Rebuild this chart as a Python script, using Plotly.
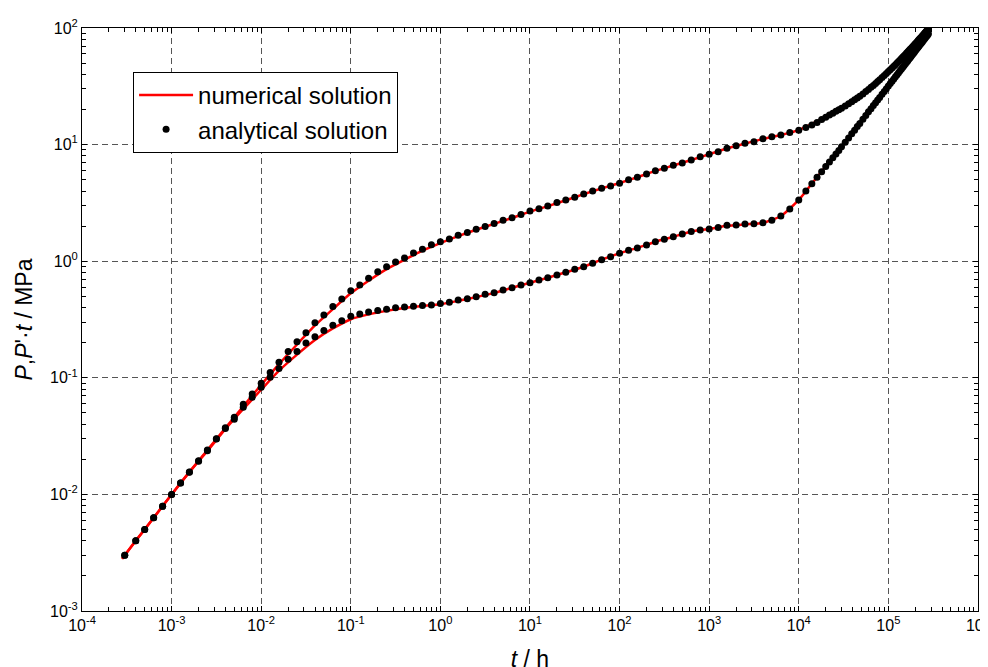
import plotly.graph_objects as go

# ---------------- data ----------------
# analytical solution (dots)
t_dots = [3.0e-4, 3.98e-4, 5.01e-4, 6.31e-4, 7.94e-4, 1.0e-3, 1.26e-3, 1.58e-3, 2.0e-3, 2.51e-3,
          3.16e-3, 3.98e-3, 5.01e-3, 6.31e-3, 7.94e-3, 1.0e-2, 1.26e-2, 1.58e-2, 2.0e-2, 2.51e-2,
          3.16e-2, 3.98e-2, 5.01e-2, 6.31e-2, 7.94e-2, 1.0e-1, 1.26e-1, 1.58e-1, 2.0e-1, 2.51e-1,
          3.16e-1, 3.98e-1, 5.01e-1, 6.31e-1, 7.94e-1, 1.0, 1.26, 1.58, 2.0, 2.51,
          3.16, 3.98, 5.01, 6.31, 7.94, 10.0, 12.6, 15.8, 20.0, 25.1,
          31.6, 39.8, 50.1, 63.1, 79.4, 100.0, 126.0, 158.0, 200.0, 251.0,
          316.0, 398.0, 501.0, 631.0, 794.0, 1000.0, 1260.0, 1580.0, 2000.0, 2510.0,
          3160.0, 3980.0, 5010.0, 6310.0, 7940.0, 10000.0,
          12000, 14000, 16000, 18000, 20000, 22000, 24000, 26000, 28000, 30000,
          33000, 36000, 39000, 42000, 45000, 48000, 52000, 56000, 60000, 64000,
          68000, 72000, 76000, 80000, 85000, 90000, 95000, 100000,
          105000, 110000, 115000, 120000, 125000, 130000, 135000, 140000, 145000, 150000,
          155000, 160000, 165000, 170000, 175000, 180000, 185000, 190000, 195000, 200000,
          205000, 210000, 215000, 220000, 225000, 230000, 235000, 240000, 245000, 250000,
          255000, 260000, 265000, 270000, 275000, 280000]

p_dots = [0.0030, 0.0040, 0.0050, 0.0063, 0.0079, 0.0100, 0.0125, 0.0156, 0.0194, 0.0240,
          0.0300, 0.0373, 0.0458, 0.0593, 0.0726, 0.090, 0.111, 0.136, 0.168, 0.204,
          0.244, 0.297, 0.346, 0.408, 0.474, 0.558, 0.625, 0.713, 0.81, 0.897,
          0.984, 1.065, 1.175, 1.264, 1.386, 1.47, 1.55, 1.67, 1.76, 1.88,
          1.98, 2.11, 2.24, 2.36, 2.52, 2.69, 2.82, 2.97, 3.19, 3.35,
          3.53, 3.77, 4.00, 4.22, 4.42, 4.66, 5.00, 5.25, 5.60, 5.98,
          6.27, 6.64, 6.95, 7.38, 7.88, 8.26, 8.69, 9.29, 9.79, 10.26,
          10.6, 11.2, 11.7, 12.1, 12.7, 13.3,
          14.0, 14.7, 15.5, 16.4, 17.2, 17.9, 18.6, 19.3, 19.9, 20.5,
          21.4, 22.4, 23.3, 24.2, 25.1, 26.0, 27.2, 28.5, 29.7, 31.0,
          32.2, 33.5, 34.7, 36.0, 37.6, 39.1, 40.7, 42.3,
          43.9, 45.4, 47.0, 48.5, 50.1, 51.6, 53.2, 54.7, 56.3, 57.8,
          59.4, 60.9, 62.5, 64.0, 65.6, 67.1, 68.7, 70.2, 71.8, 73.3,
          74.9, 76.4, 78.0, 79.5, 81.1, 82.6, 84.2, 85.7, 87.3, 88.8,
          90.4, 91.9, 93.5, 95.0, 96.6, 98.1]

dp_dots = [0.0030, 0.0040, 0.0050, 0.0063, 0.0079, 0.0100, 0.0125, 0.0155, 0.0192, 0.0237,
           0.0298, 0.0368, 0.0441, 0.0558, 0.068, 0.083, 0.101, 0.120, 0.144, 0.168,
           0.199, 0.225, 0.254, 0.282, 0.309, 0.337, 0.353, 0.367, 0.378, 0.388,
           0.398, 0.405, 0.411, 0.416, 0.422, 0.434, 0.444, 0.465, 0.477, 0.496,
           0.520, 0.537, 0.566, 0.593, 0.625, 0.654, 0.690, 0.722, 0.762, 0.803,
           0.853, 0.897, 0.959, 1.03, 1.09, 1.17, 1.24, 1.30, 1.38, 1.47,
           1.54, 1.62, 1.71, 1.80, 1.85, 1.89, 1.95, 2.03, 2.04, 2.08,
           2.09, 2.14, 2.24, 2.44, 2.80, 3.35,
           4.00, 4.62, 5.25, 5.85, 6.5, 7.1, 7.7, 8.3, 8.9, 9.6,
           10.5, 11.4, 12.4, 13.3, 14.3, 15.2, 16.5, 17.8, 19.1, 20.3,
           21.6, 22.9, 24.1, 25.4, 27.0, 28.6, 30.2, 31.8,
           33.4, 35.0, 36.6, 38.1, 39.7, 41.3, 42.9, 44.5, 46.1, 47.7,
           49.3, 50.9, 52.5, 54.1, 55.7, 57.3, 58.9, 60.5, 62.1, 63.7,
           65.3, 66.9, 68.5, 70.1, 71.7, 73.3, 74.9, 76.4, 78.0, 79.6,
           81.2, 82.8, 84.4, 86.0, 87.6, 89.2]

# numerical solution (red lines)
t_num = [2.8e-4, 3.98e-4, 6.31e-4, 1.0e-3, 1.58e-3, 2.51e-3, 3.98e-3, 6.31e-3, 1.0e-2, 1.58e-2,
         2.51e-2, 3.98e-2, 6.31e-2, 1.0e-1, 1.58e-1, 2.51e-1, 3.98e-1, 6.31e-1, 1.0, 1.58,
         2.51, 3.98, 6.31, 10.0, 15.8, 25.1, 39.8, 63.1, 100.0, 158.0,
         251.0, 398.0, 631.0, 1000.0, 1580.0, 2510.0, 3980.0, 6310.0, 10000.0,
         15000, 20000, 30000, 40000, 60000, 80000, 100000, 150000, 200000, 250000, 280000]

p_num = [0.0028, 0.0040, 0.0063, 0.0100, 0.0156, 0.0240, 0.0370, 0.057, 0.087, 0.131,
         0.193, 0.281, 0.388, 0.53, 0.68, 0.855, 1.03, 1.23, 1.43, 1.64,
         1.86, 2.09, 2.35, 2.66, 2.97, 3.33, 3.76, 4.21, 4.68, 5.25,
         5.95, 6.62, 7.38, 8.26, 9.25, 10.2, 11.2, 12.1, 13.3,
         15.4, 17.2, 20.5, 23.6, 29.7, 36.0, 42.3, 57.8, 73.3, 88.8, 98.1]

dp_num = [0.0028, 0.0040, 0.0063, 0.0100, 0.0155, 0.0236, 0.0362, 0.054, 0.079, 0.115,
          0.158, 0.211, 0.265, 0.318, 0.350, 0.375, 0.396, 0.412, 0.428, 0.457,
          0.492, 0.535, 0.592, 0.654, 0.722, 0.803, 0.897, 1.03, 1.17, 1.30,
          1.47, 1.62, 1.80, 1.89, 2.01, 2.07, 2.13, 2.44, 3.35,
          4.95, 6.5, 9.6, 12.7, 19.1, 25.4, 31.8, 47.7, 63.7, 79.6, 89.2]

x_tickvals = [1e-4, 1e-3, 1e-2, 1e-1, 1e0, 1e1, 1e2, 1e3, 1e4, 1e5, 1e6]
x_ticktext = ["10<sup>-4</sup>", "10<sup>-3</sup>", "10<sup>-2</sup>", "10<sup>-1</sup>",
              "10<sup>0</sup>", "10<sup>1</sup>", "10<sup>2</sup>", "10<sup>3</sup>",
              "10<sup>4</sup>", "10<sup>5</sup>", "10<sup>6</sup>"]
y_tickvals = [1e-3, 1e-2, 1e-1, 1e0, 1e1, 1e2]
y_ticktext = ["10<sup>-3</sup>", "10<sup>-2</sup>", "10<sup>-1</sup>",
              "10<sup>0</sup>", "10<sup>1</sup>", "10<sup>2</sup>"]

# ---------------- figure ----------------
FONT = "Arial, Liberation Sans, sans-serif"
RED = "#ff0000"

fig = go.Figure()
fig.add_trace(go.Scatter(x=t_num, y=p_num, mode="lines", name="numerical solution",
                         line=dict(color=RED, width=2.5, shape="spline", smoothing=0.6),
                         legendgroup="num", showlegend=True))
fig.add_trace(go.Scatter(x=t_num, y=dp_num, mode="lines", name="numerical solution",
                         line=dict(color=RED, width=2.5, shape="spline", smoothing=0.6),
                         legendgroup="num", showlegend=False))
fig.add_trace(go.Scatter(x=t_dots, y=p_dots, mode="markers", name="analytical solution",
                         marker=dict(color="black", size=7, line=dict(width=0)),
                         legendgroup="ana", showlegend=True))
fig.add_trace(go.Scatter(x=t_dots, y=dp_dots, mode="markers", name="analytical solution",
                         marker=dict(color="black", size=7, line=dict(width=0)),
                         legendgroup="ana", showlegend=False))

axis_common = dict(
    type="log", automargin=False,
    showline=True, linecolor="black", linewidth=1, mirror="allticks",
    ticks="inside", ticklen=5, tickcolor="black", tickwidth=1,
    showgrid=True, gridcolor="#555555", gridwidth=1, griddash="6px,4px",
    zeroline=False,
    tickfont=dict(family=FONT, size=16, color="black"),
    minor=dict(ticks="inside", ticklen=4, tickcolor="black", tickwidth=1,
               dtick="D1", showgrid=False),
    tickmode="array",
)

fig.update_xaxes(**axis_common, range=[-4, 6.0005], tickvals=x_tickvals, ticktext=x_ticktext,
                 ticklabeloverflow="allow",
                 title=dict(text="<i>t</i> / h", font=dict(family=FONT, size=23, color="black"),
                            standoff=17))
fig.update_yaxes(**axis_common, range=[-3, 2], tickvals=y_tickvals, ticktext=y_ticktext,
                 title=dict(text="<i>P</i>,<i>P</i>'·<i>t</i> / MPa",
                            font=dict(family=FONT, size=23, color="black"), standoff=10))

# page body adds an 8 px offset, margins compensate for it
fig.update_layout(
    width=988, height=667,
    margin=dict(l=74, r=18, t=20, b=64),
    paper_bgcolor="white", plot_bgcolor="white",
    font=dict(family=FONT, color="black"),
    legend=dict(x=0.057, y=0.9245, xanchor="left", yanchor="top",
                bgcolor="white", bordercolor="black", borderwidth=1,
                font=dict(family=FONT, size=24, color="black"),
                itemwidth=54, tracegroupgap=0),
    showlegend=True,
)

fig.write_html("out.html")
